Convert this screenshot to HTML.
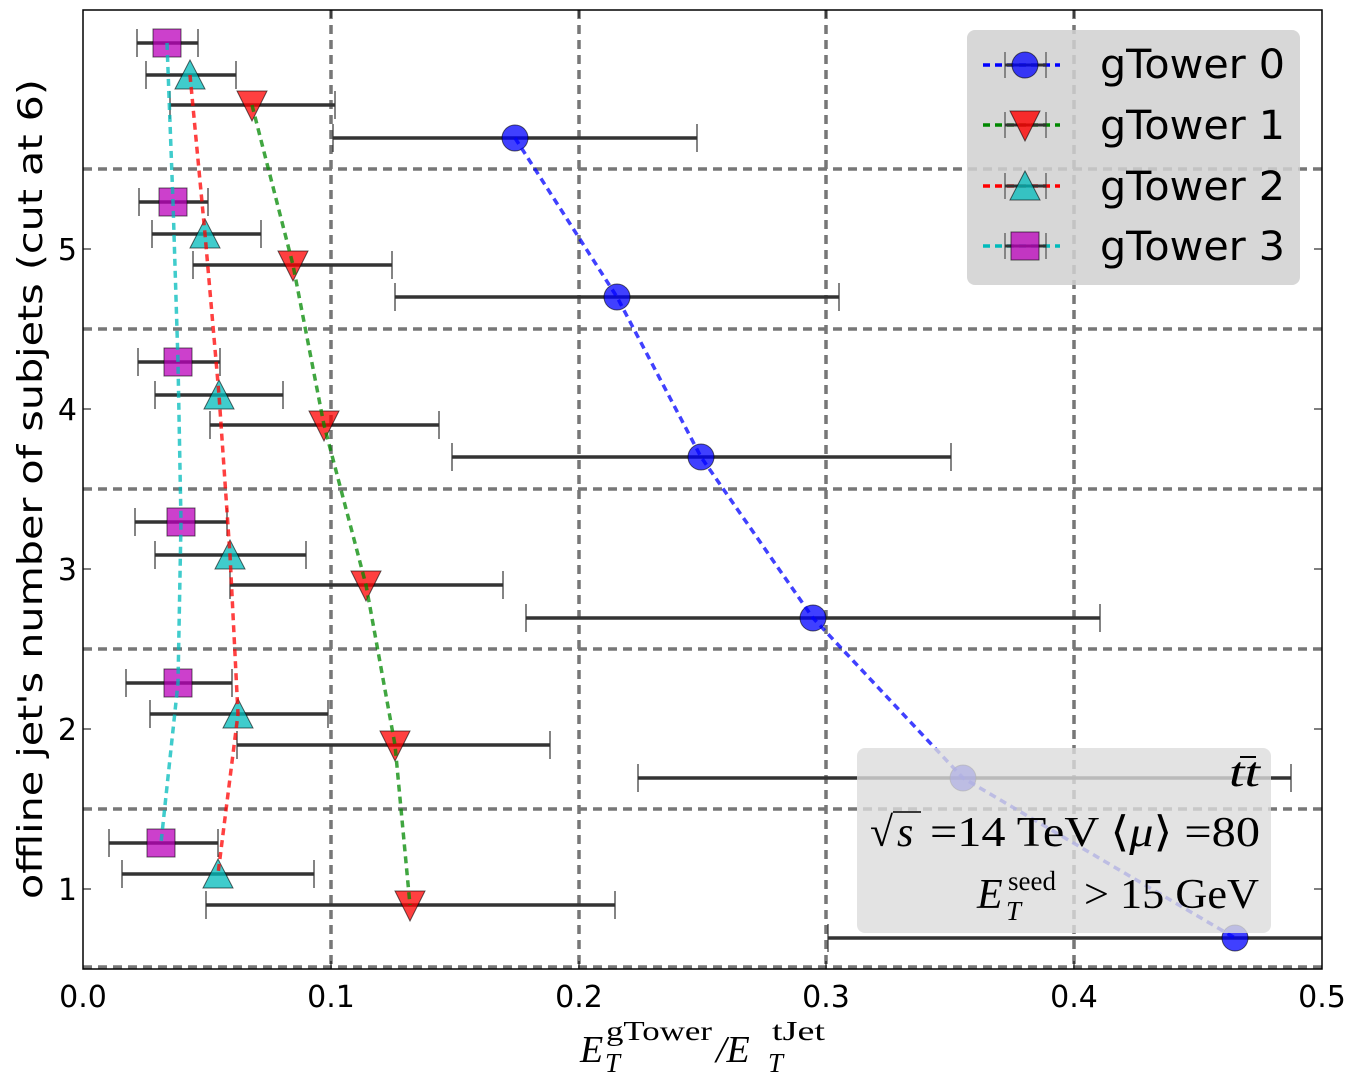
<!DOCTYPE html>
<html><head><meta charset="utf-8"><style>
html,body{margin:0;padding:0;background:#fff;}
svg{display:block;}
</style></head><body>
<svg width="1357" height="1084" viewBox="0 0 1357 1084" xmlns="http://www.w3.org/2000/svg">
<rect width="1357" height="1084" fill="#fff"/>
<!-- grid -->
<g stroke="#777" stroke-width="3.5" stroke-dasharray="9,6" fill="none">
<line x1="331" y1="10" x2="331" y2="969"/>
<line x1="579" y1="10" x2="579" y2="969"/>
<line x1="826" y1="10" x2="826" y2="969"/>
<line x1="1074" y1="10" x2="1074" y2="969"/>
<line x1="83" y1="169" x2="1322" y2="169"/>
<line x1="83" y1="329" x2="1322" y2="329"/>
<line x1="83" y1="489" x2="1322" y2="489"/>
<line x1="83" y1="649" x2="1322" y2="649"/>
<line x1="83" y1="809" x2="1322" y2="809"/>
<line x1="83" y1="967" x2="1322" y2="967"/>
</g>
<!-- error bars -->
<g stroke="#333" stroke-width="3.5">
<line x1="333" y1="138" x2="697" y2="138"/><line x1="395" y1="297" x2="839" y2="297"/><line x1="452" y1="457" x2="951" y2="457"/><line x1="526" y1="618" x2="1100" y2="618"/><line x1="638" y1="778" x2="1291" y2="778"/><line x1="828" y1="938" x2="1322" y2="938"/>
<line x1="170" y1="105" x2="335" y2="105"/><line x1="193" y1="265" x2="392" y2="265"/><line x1="210" y1="425" x2="439" y2="425"/><line x1="230" y1="585" x2="503" y2="585"/><line x1="237" y1="745" x2="550" y2="745"/><line x1="206" y1="905" x2="615" y2="905"/>
<line x1="146" y1="75" x2="236" y2="75"/><line x1="152" y1="234" x2="261" y2="234"/><line x1="155" y1="395" x2="283" y2="395"/><line x1="155" y1="555" x2="306" y2="555"/><line x1="150" y1="714" x2="328" y2="714"/><line x1="122" y1="874" x2="314" y2="874"/>
<line x1="137" y1="43" x2="198" y2="43"/><line x1="139" y1="202" x2="208" y2="202"/><line x1="138" y1="362" x2="220" y2="362"/><line x1="135" y1="522" x2="227" y2="522"/><line x1="126" y1="683" x2="232" y2="683"/><line x1="109" y1="843" x2="218" y2="843"/>
</g>
<g stroke="#333" stroke-width="1.2">
<path d="M333 124v28M697 124v28M395 283v28M839 283v28M452 443v28M951 443v28M526 604v28M1100 604v28M638 764v28M1291 764v28M828 924v28"/>
<path d="M170 91v28M335 91v28M193 251v28M392 251v28M210 411v28M439 411v28M230 571v28M503 571v28M237 731v28M550 731v28M206 891v28M615 891v28"/>
<path d="M146 61v28M236 61v28M152 220v28M261 220v28M155 381v28M283 381v28M155 541v28M306 541v28M150 700v28M328 700v28M122 860v28M314 860v28"/>
<path d="M137 29v28M198 29v28M139 188v28M208 188v28M138 348v28M220 348v28M135 508v28M227 508v28M126 669v28M232 669v28M109 829v28M218 829v28"/>
</g>
<!-- markers -->
<g fill="#0000ff" fill-opacity="0.75" stroke="#000" stroke-opacity="0.6" stroke-width="1">
<circle cx="515" cy="138" r="13"/><circle cx="617" cy="297" r="13"/><circle cx="701" cy="457" r="13"/><circle cx="813" cy="618" r="13"/><circle cx="963" cy="778" r="13"/><circle cx="1235" cy="938" r="13"/>
</g>
<g fill="#ff0000" fill-opacity="0.75" stroke="#000" stroke-opacity="0.6" stroke-width="1">
<polygon points="237,91 267,91 252,121"/><polygon points="278,251 308,251 293,281"/><polygon points="309,411 339,411 324,441"/><polygon points="351,571 381,571 366,601"/><polygon points="380,731 410,731 395,761"/><polygon points="395,891 425,891 410,921"/>
</g>
<g fill="#00bbbb" fill-opacity="0.75" stroke="#000" stroke-opacity="0.6" stroke-width="1">
<polygon points="190,60 175,89 205,89"/><polygon points="205,219 190,248 220,248"/><polygon points="219,380 204,409 234,409"/><polygon points="230,540 215,569 245,569"/><polygon points="238,699 223,728 253,728"/><polygon points="218,859 203,888 233,888"/>
</g>
<g fill="#bb00bb" fill-opacity="0.75" stroke="#000" stroke-opacity="0.6" stroke-width="1">
<rect x="153" y="29" width="28" height="28"/><rect x="159" y="188" width="28" height="28"/><rect x="164" y="348" width="28" height="28"/><rect x="167" y="508" width="28" height="28"/><rect x="164" y="669" width="28" height="28"/><rect x="147" y="829" width="28" height="28"/>
</g>
<!-- connecting lines -->
<g fill="none" stroke-width="3.5" stroke-dasharray="7,5" stroke-opacity="0.75">
<polyline stroke="#0000ff" points="515,138 617,297 701,457 813,618 963,778 1235,938"/>
<polyline stroke="#008800" points="252,105 293,265 324,425 366,585 395,745 410,905"/>
<polyline stroke="#ff0000" points="190,75 205,234 219,395 230,555 238,714 218,874"/>
<polyline stroke="#00bbbb" points="167,43 173,202 178,362 181,522 178,683 161,843"/>
</g>
<!-- axes frame -->
<rect x="83" y="10" width="1239" height="959" fill="none" stroke="#000" stroke-width="1.5"/>
<g stroke="#000" stroke-width="1">
<path d="M331 969v-8M579 969v-8M826 969v-8M1074 969v-8M331 10v8M579 10v8M826 10v8M1074 10v8"/>
<path d="M83 889h8M83 729h8M83 569h8M83 409h8M83 249h8M1322 889h-8M1322 729h-8M1322 569h-8M1322 409h-8M1322 249h-8"/>
</g>
<!-- tick labels -->
<g font-family="DejaVu Sans, sans-serif" font-size="30" fill="#000" text-anchor="middle">
<text x="83" y="1007">0.0</text><text x="331" y="1007">0.1</text><text x="579" y="1007">0.2</text><text x="826" y="1007">0.3</text><text x="1074" y="1007">0.4</text><text x="1322" y="1007">0.5</text>
</g>
<g font-family="DejaVu Sans, sans-serif" font-size="30" fill="#000" text-anchor="end">
<text x="77" y="900">1</text><text x="77" y="740">2</text><text x="77" y="580">3</text><text x="77" y="420">4</text><text x="77" y="260">5</text>
</g>
<text transform="translate(42,489) rotate(-90)" font-family="DejaVu Sans, sans-serif" font-size="34" text-anchor="middle" fill="#000" textLength="820" lengthAdjust="spacingAndGlyphs">offline jet's number of subjets (cut at 6)</text>
<!-- x label -->
<g font-family="Liberation Serif, serif" fill="#000">
<text x="580" y="1062" font-size="38" font-style="italic">E</text>
<text x="606" y="1040" font-size="27" textLength="106" lengthAdjust="spacingAndGlyphs">gTower</text>
<text x="605" y="1072" font-size="27" font-style="italic">T</text>
<text x="716" y="1062" font-size="38" font-style="italic">/E</text>
<text x="772" y="1040" font-size="27" textLength="53" lengthAdjust="spacingAndGlyphs">tJet</text>
<text x="768" y="1072" font-size="27" font-style="italic">T</text>
</g>
<!-- legend -->
<rect x="967" y="30" width="333" height="255" rx="8" fill="#d0d0d0" fill-opacity="0.85"/>
<g font-family="DejaVu Sans, sans-serif" font-size="40" fill="#000">
<text x="1100" y="78" textLength="185" lengthAdjust="spacingAndGlyphs">gTower 0</text><text x="1100" y="139" textLength="185" lengthAdjust="spacingAndGlyphs">gTower 1</text><text x="1100" y="200" textLength="185" lengthAdjust="spacingAndGlyphs">gTower 2</text><text x="1100" y="260" textLength="185" lengthAdjust="spacingAndGlyphs">gTower 3</text>
</g>
<g stroke-width="3.5" stroke-dasharray="7,5">
<line x1="983" y1="65" x2="1060" y2="65" stroke="#0000ff"/>
<line x1="983" y1="125" x2="1060" y2="125" stroke="#008800"/>
<line x1="983" y1="186" x2="1060" y2="186" stroke="#ff0000"/>
<line x1="983" y1="246" x2="1060" y2="246" stroke="#00bbbb"/>
</g>
<g stroke="#333" stroke-width="3"><line x1="1005" y1="65" x2="1046" y2="65"/><line x1="1005" y1="125" x2="1046" y2="125"/><line x1="1005" y1="186" x2="1046" y2="186"/><line x1="1005" y1="246" x2="1046" y2="246"/></g>
<g stroke="#333" stroke-width="1"><path d="M1005 52v26M1046 52v26M1005 112v26M1046 112v26M1005 173v26M1046 173v26M1005 233v26M1046 233v26"/></g>
<circle cx="1025" cy="65" r="13" fill="#0000ff" fill-opacity="0.75" stroke="#000" stroke-opacity="0.6"/>
<polygon points="1010,111 1040,111 1025,141" fill="#ff0000" fill-opacity="0.8" stroke="#000" stroke-opacity="0.6"/>
<polygon points="1025,171 1010,200 1040,200" fill="#00bbbb" fill-opacity="0.75" stroke="#000" stroke-opacity="0.6"/>
<rect x="1011" y="232" width="28" height="28" fill="#bb00bb" fill-opacity="0.75" stroke="#000" stroke-opacity="0.6"/>
<!-- text box -->
<rect x="857" y="748" width="414" height="185" rx="8" fill="#dcdcdc" fill-opacity="0.8"/>
<g font-family="Liberation Serif, serif" fill="#000" font-size="42">
<text x="1229" y="786" font-style="italic" textLength="31" lengthAdjust="spacingAndGlyphs">tt</text>
<line x1="1240" y1="757" x2="1256" y2="757" stroke="#000" stroke-width="2"/>
<text x="870" y="846">√</text>
<line x1="893" y1="812" x2="921" y2="812" stroke="#000" stroke-width="1.5"/>
<text x="897" y="846" font-style="italic">s</text>
<text x="930" y="846" textLength="330" lengthAdjust="spacingAndGlyphs">=14 TeV ⟨<tspan font-style="italic">μ</tspan>⟩ =80</text>
<text x="977" y="908" font-style="italic">E</text>
<text x="1008" y="890" font-size="27">seed</text>
<text x="1006" y="920" font-size="27" font-style="italic">T</text>
<text x="1084" y="908" textLength="175" lengthAdjust="spacingAndGlyphs">&gt; 15 GeV</text>
</g>
</svg>
</body></html>
